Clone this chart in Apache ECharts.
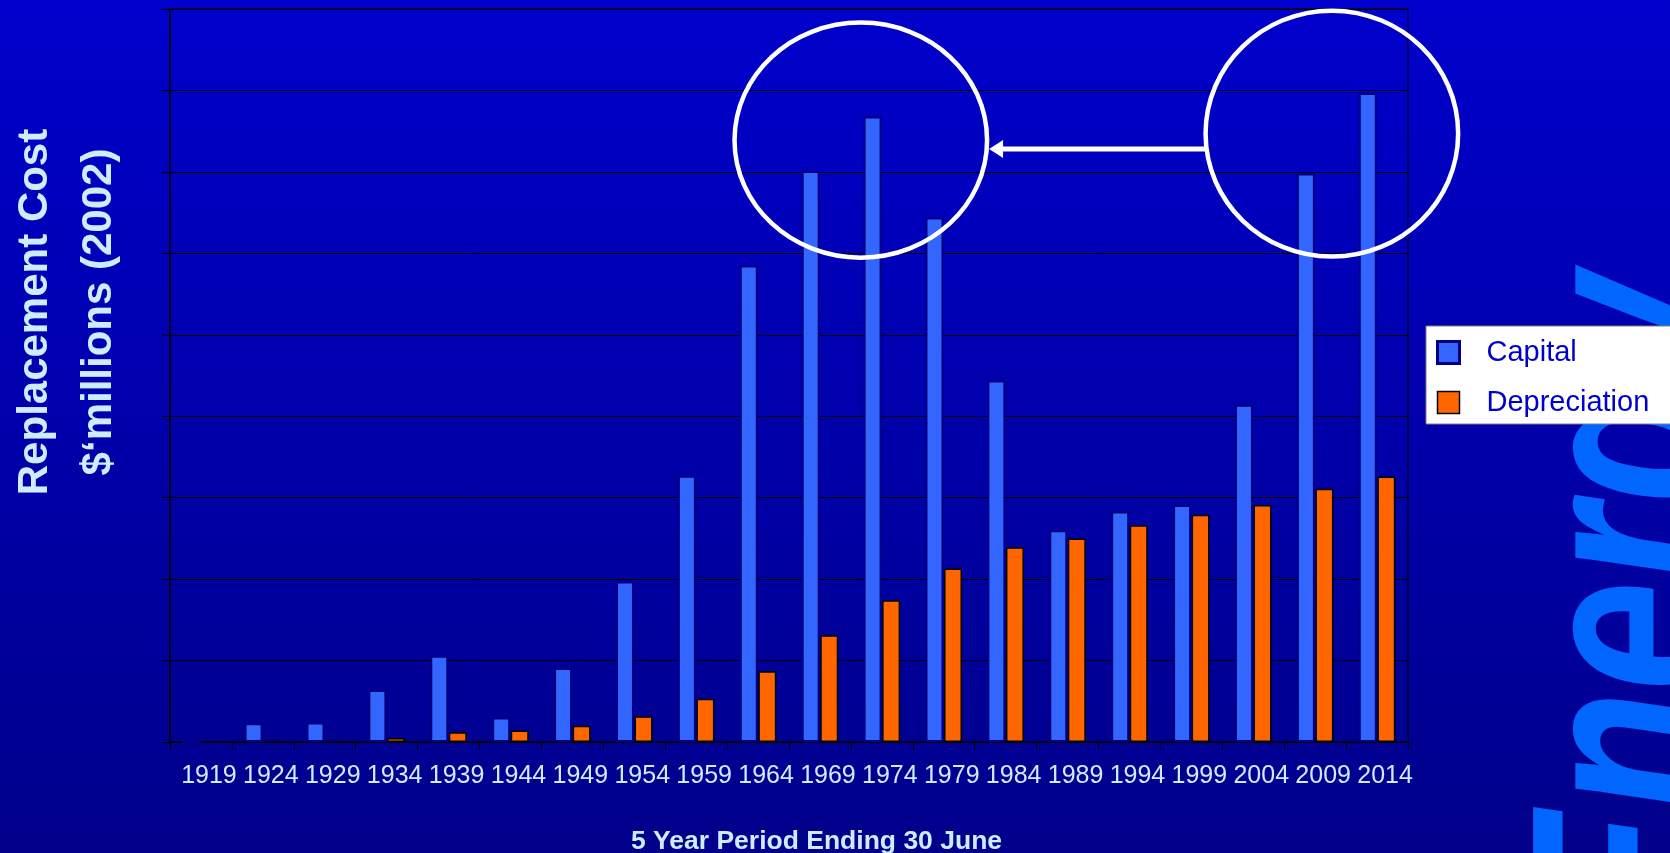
<!DOCTYPE html>
<html>
<head>
<meta charset="utf-8">
<script src="https://cdn.jsdelivr.net/npm/echarts@6/dist/echarts.min.js"></script>
<style>
  html, body { margin: 0; padding: 0; overflow: hidden; }
  #chart { width: 1670px; height: 853px; }
</style>
</head>
<body>
<div id="chart"></div>
<script>
// Five-year periods (ending 30 June)
const periods = ['1919', '1924', '1929', '1934', '1939', '1944', '1949', '1954', '1959', '1964',
                 '1969', '1974', '1979', '1984', '1989', '1994', '1999', '2004', '2009', '2014'];
// Replacement cost, $ millions (2002)
const capital = [0, 23, 24, 64, 106, 30, 91, 197, 327, 585,
                 701, 768, 644, 444, 260, 283, 291, 414, 698, 797];
const depreciation = [0, 1.5, 1.5, 5, 12, 14, 20, 31.5, 53, 87,
                      131, 174, 213, 239, 250, 266, 279, 291, 311, 326];
const seriesNames = ['Capital', 'Depreciation'];
const yAxisTitle = ['Replacement Cost', '$\u2018millions (2002)'];
const xAxisTitle = '5 Year Period Ending 30 June';
const watermark = 'Energy';

const FONT = '"Liberation Sans", Arial, Helvetica, sans-serif';
const LIGHT = '#CCECFF';
const CAPITAL_COLOR = '#3366FF';
const DEPR_COLOR = '#FF6600';

const chart = echarts.init(document.getElementById('chart'), null, { renderer: 'canvas' });

chart.setOption({
  animation: false,
  backgroundColor: {
    type: 'linear', x: 0, y: 0, x2: 0, y2: 1,
    colorStops: [{ offset: 0, color: '#0000CC' }, { offset: 1, color: '#00008A' }]
  },
  grid: {
    left: 170, right: 262, top: 9, bottom: 111,
    show: true, borderColor: '#000', borderWidth: 1, backgroundColor: 'transparent',
    containLabel: false, outerBoundsMode: 'none'
  },
  legend: {
    orient: 'vertical',
    left: 1426, top: 326,
    padding: [12, 80, 7, 10],
    itemWidth: 22, itemHeight: 22, itemGap: 21,
    backgroundColor: '#FFFFFF', borderColor: '#7F7F7F', borderWidth: 1, borderRadius: 0,
    selectedMode: false,
    textStyle: { color: '#0000CC', fontSize: 29, fontFamily: FONT, lineHeight: 28, padding: [0, 0, 0, 22] },
    data: [
      { name: seriesNames[0], icon: 'rect', itemStyle: { color: CAPITAL_COLOR, borderColor: '#000080', borderWidth: 3 } },
      { name: seriesNames[1], icon: 'rect', itemStyle: { color: DEPR_COLOR, borderColor: '#000000', borderWidth: 1.5 } }
    ]
  },
  xAxis: {
    type: 'category',
    data: periods,
    axisLine: { lineStyle: { color: '#000', width: 1.5 } },
    axisTick: { show: true, length: 8, lineStyle: { color: '#000' } },
    axisLabel: { color: LIGHT, fontSize: 25, fontFamily: FONT, margin: 22, interval: 0, padding: [0, 0, 0, 16] },
    name: xAxisTitle,
    nameLocation: 'middle',
    nameGap: 86,
    nameTextStyle: { color: LIGHT, fontSize: 26.5, fontWeight: 'bold', fontFamily: FONT, padding: [0, 0, 0, 55] }
  },
  yAxis: {
    type: 'value',
    min: 0, max: 900, interval: 100,
    axisLine: { show: true, lineStyle: { color: '#000', width: 1.5 } },
    axisTick: { show: true, length: 8, lineStyle: { color: '#000' } },
    axisLabel: { show: false },
    splitLine: { show: true, lineStyle: { color: '#000', width: 1 } }
  },
  series: [
    {
      name: seriesNames[0], type: 'bar', data: capital,
      barWidth: 18, barGap: '3%',
      itemStyle: { color: CAPITAL_COLOR, borderColor: '#000080', borderWidth: 2 }
    },
    {
      name: seriesNames[1], type: 'bar', data: depreciation,
      barWidth: 18,
      itemStyle: { color: DEPR_COLOR, borderColor: '#000000', borderWidth: 1.5 }
    }
  ]
});

// Overlay texts and the highlight ellipses, placed from the axes' own scales
const toPx = (cat, v) => chart.convertToPixel({ xAxisIndex: 0, yAxisIndex: 0 }, [cat, v]);
const step = toPx(periods[1], 0)[0] - toPx(periods[0], 0)[0];
const unit = toPx(periods[0], 0)[1] - toPx(periods[0], 100)[1];

const e1 = toPx('1969', 739);
const ring1 = { cx: e1[0] + 0.66 * step, cy: e1[1], rx: 2.04 * step, ry: 1.443 * unit };
const e2 = toPx('2009', 747);
const ring2 = { cx: e2[0] + 0.27 * step, cy: e2[1], rx: 2.04 * step, ry: 1.51 * unit };
const arrowY = toPx('1969', 728)[1];
const tipX = ring1.cx + ring1.rx + 2;

chart.setOption({
  graphic: [
    {
      type: 'text', id: 'watermark', z: 1,
      x: 1642, y: 944, rotation: Math.PI / 2, scaleX: 0.75,
      style: {
        text: watermark, fontSize: 264, fontStyle: 'italic', fontWeight: 'bold',
        fontFamily: FONT, fill: '#0066FF', align: 'left', verticalAlign: 'middle'
      }
    },
    {
      type: 'text', id: 'ytitle', z: 10,
      x: 67, y: 312, rotation: Math.PI / 2,
      style: {
        text: yAxisTitle.join('\n'), fontSize: 42, fontWeight: 'bold', fontFamily: FONT,
        fill: LIGHT, align: 'center', verticalAlign: 'middle', lineHeight: 64
      }
    },
    {
      type: 'ellipse', id: 'ring1', z: 100,
      shape: ring1,
      style: { fill: 'none', stroke: '#FFFFFF', lineWidth: 4.5 }
    },
    {
      type: 'ellipse', id: 'ring2', z: 100,
      shape: ring2,
      style: { fill: 'none', stroke: '#FFFFFF', lineWidth: 4.5 }
    },
    {
      type: 'line', id: 'arrowShaft', z: 100,
      shape: { x1: ring2.cx - ring2.rx, y1: arrowY, x2: tipX + 12, y2: arrowY },
      style: { stroke: '#FFFFFF', lineWidth: 5 }
    },
    {
      type: 'polygon', id: 'arrowHead', z: 100,
      shape: { points: [[tipX, arrowY], [tipX + 14, arrowY - 9], [tipX + 14, arrowY + 9]] },
      style: { fill: '#FFFFFF' }
    }
  ]
});
</script>
</body>
</html>
